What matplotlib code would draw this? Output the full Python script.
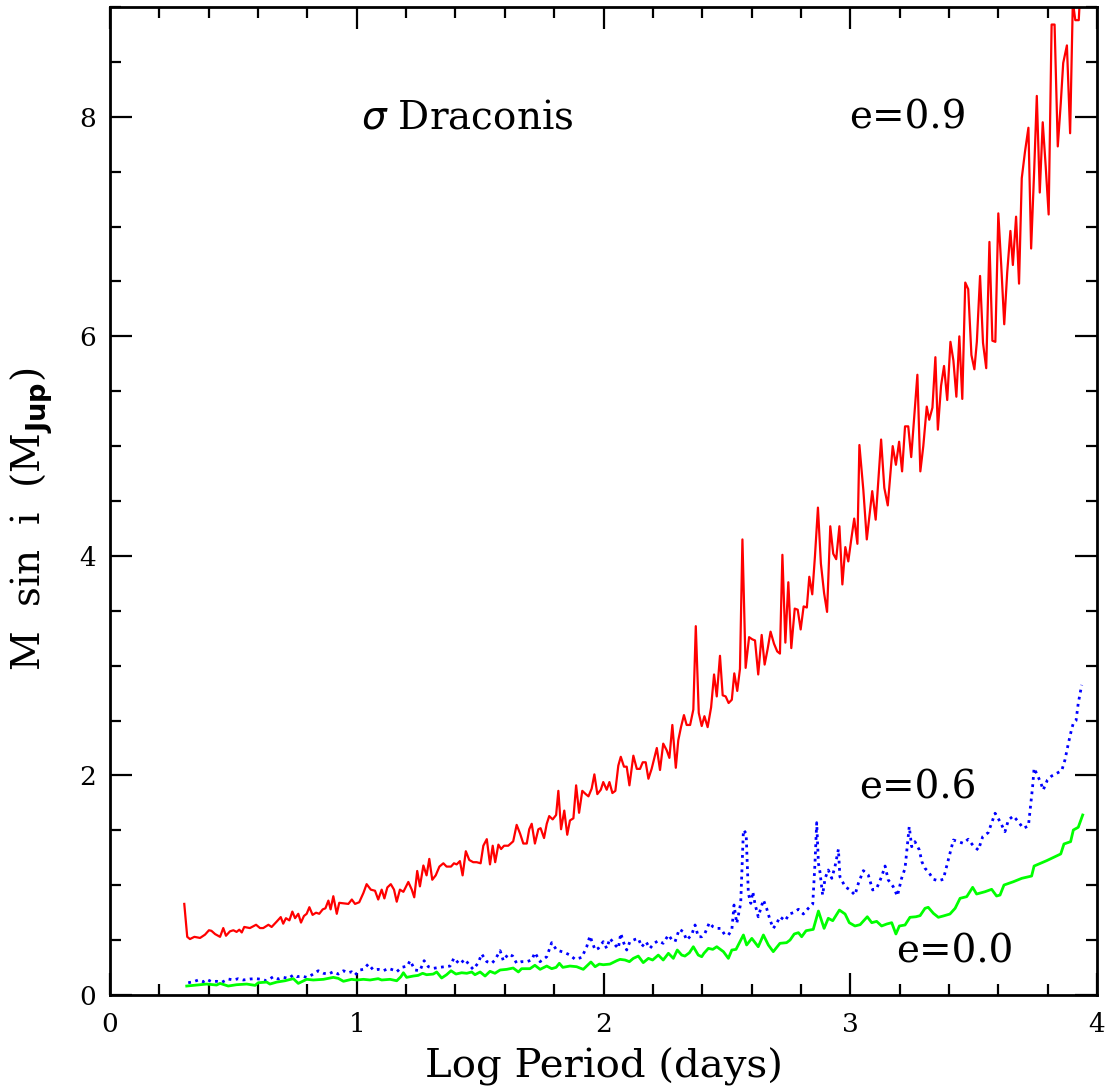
import numpy as np
import matplotlib
matplotlib.use("Agg")
import matplotlib.pyplot as plt
from matplotlib.ticker import MultipleLocator

# e=0.9 (red, solid)
x09 = [0.301, 0.313, 0.324, 0.342, 0.365, 0.385, 0.401, 0.411, 0.426, 0.446,
       0.459, 0.470, 0.486, 0.500, 0.513, 0.524, 0.534, 0.544, 0.567, 0.592,
       0.608, 0.621, 0.642, 0.655, 0.676, 0.692, 0.702, 0.713, 0.727, 0.739,
       0.750, 0.763, 0.774, 0.786, 0.797, 0.808, 0.821, 0.835, 0.848, 0.862,
       0.873, 0.885, 0.894, 0.905, 0.919, 0.929, 0.948, 0.966, 0.980, 0.993,
       1.010, 1.027, 1.040, 1.057, 1.074, 1.087, 1.101, 1.112, 1.124, 1.138,
       1.151, 1.162, 1.175, 1.189, 1.209, 1.223, 1.233, 1.245, 1.256, 1.270,
       1.283, 1.294, 1.306, 1.320, 1.335, 1.351, 1.364, 1.382, 1.394, 1.405,
       1.418, 1.429, 1.442, 1.456, 1.472, 1.486, 1.502, 1.513, 1.527, 1.540,
       1.551, 1.561, 1.574, 1.585, 1.597, 1.614, 1.634, 1.648, 1.662, 1.675,
       1.689, 1.699, 1.709, 1.722, 1.736, 1.745, 1.759, 1.770, 1.780, 1.794,
       1.808, 1.817, 1.828, 1.841, 1.853, 1.864, 1.878, 1.889, 1.901, 1.914,
       1.928, 1.939, 1.952, 1.963, 1.975, 1.989, 1.999, 2.013, 2.024, 2.036,
       2.048, 2.060, 2.070, 2.083, 2.094, 2.105, 2.121, 2.135, 2.148, 2.159,
       2.171, 2.182, 2.195, 2.216, 2.229, 2.242, 2.256, 2.267, 2.279, 2.293,
       2.303, 2.314, 2.326, 2.337, 2.351, 2.364, 2.374, 2.386, 2.398, 2.409,
       2.422, 2.436, 2.448, 2.459, 2.472, 2.483, 2.495, 2.507, 2.520, 2.530,
       2.542, 2.553, 2.563, 2.576, 2.590, 2.603, 2.614, 2.627, 2.641, 2.653,
       2.665, 2.677, 2.691, 2.704, 2.715, 2.725, 2.737, 2.749, 2.761, 2.775,
       2.787, 2.799, 2.811, 2.824, 2.834, 2.846, 2.857, 2.869, 2.881, 2.894,
       2.906, 2.919, 2.931, 2.943, 2.956, 2.968, 2.980, 2.992, 3.004, 3.016,
       3.029, 3.037, 3.053, 3.067, 3.089, 3.103, 3.125, 3.138, 3.152, 3.172,
       3.185, 3.198, 3.210, 3.222, 3.235, 3.247, 3.272, 3.284, 3.296, 3.310,
       3.320, 3.333, 3.345, 3.355, 3.368, 3.380, 3.393, 3.406, 3.418, 3.430,
       3.442, 3.454, 3.466, 3.478, 3.491, 3.503, 3.513, 3.526, 3.538, 3.551,
       3.564, 3.576, 3.588, 3.600, 3.612, 3.624, 3.636, 3.649, 3.659, 3.672,
       3.684, 3.695, 3.708, 3.722, 3.733, 3.745, 3.756, 3.768, 3.780, 3.792,
       3.804, 3.816, 3.828, 3.841, 3.853, 3.863, 3.878, 3.891, 3.902, 3.912,
       3.926, 3.931]
m09 = [0.83, 0.53, 0.51, 0.53, 0.52, 0.55, 0.59, 0.585, 0.555, 0.53,
       0.61, 0.54, 0.58, 0.59, 0.575, 0.595, 0.57, 0.62, 0.61, 0.64,
       0.61, 0.61, 0.64, 0.62, 0.67, 0.71, 0.65, 0.70, 0.68, 0.76,
       0.70, 0.74, 0.66, 0.72, 0.74, 0.80, 0.73, 0.75, 0.74, 0.78,
       0.79, 0.86, 0.78, 0.90, 0.74, 0.84, 0.835, 0.83, 0.87, 0.83,
       0.845, 0.93, 1.01, 0.96, 0.95, 0.87, 0.96, 0.88, 0.98, 1.01,
       0.96, 0.85, 0.96, 0.94, 1.03, 0.96, 0.89, 1.13, 0.99, 1.18,
       1.09, 1.24, 1.05, 1.09, 1.17, 1.20, 1.17, 1.17, 1.20, 1.19,
       1.22, 1.09, 1.31, 1.23, 1.21, 1.21, 1.20, 1.36, 1.42, 1.19,
       1.36, 1.21, 1.37, 1.33, 1.36, 1.36, 1.40, 1.55, 1.47, 1.38,
       1.38, 1.51, 1.56, 1.38, 1.51, 1.52, 1.43, 1.56, 1.63, 1.60,
       1.64, 1.86, 1.51, 1.68, 1.46, 1.59, 1.61, 1.91, 1.66, 1.86,
       1.83, 1.81, 1.88, 2.01, 1.83, 1.87, 1.94, 1.87, 1.94, 1.84,
       1.86, 2.09, 2.17, 2.08, 2.08, 1.91, 2.18, 2.06, 2.06, 2.12,
       2.12, 1.97, 2.06, 2.25, 2.05, 2.29, 2.23, 2.16, 2.46, 2.07,
       2.32, 2.44, 2.55, 2.46, 2.46, 2.60, 3.36, 2.57, 2.45, 2.54,
       2.44, 2.62, 2.92, 2.72, 3.09, 2.73, 2.72, 2.66, 2.69, 2.93,
       2.77, 2.97, 4.15, 2.98, 3.26, 3.24, 3.23, 2.92, 3.28, 3.01,
       3.15, 3.31, 3.20, 3.13, 3.11, 4.01, 3.21, 3.76, 3.16, 3.52,
       3.51, 3.33, 3.54, 3.53, 3.81, 3.65, 4.00, 4.44, 3.93, 3.66,
       3.49, 4.27, 4.02, 3.97, 4.27, 3.74, 4.08, 3.95, 4.15, 4.34,
       4.11, 5.01, 4.60, 4.15, 4.59, 4.33, 5.06, 4.62, 4.46, 5.00,
       4.83, 5.04, 4.77, 5.18, 5.18, 4.90, 5.65, 4.77, 5.00, 5.36,
       5.24, 5.35, 5.81, 5.15, 5.55, 5.73, 5.42, 5.95, 5.78, 5.45,
       6.00, 5.43, 6.49, 6.43, 5.83, 5.70, 5.95, 6.55, 5.94, 5.71,
       6.86, 5.96, 5.95, 7.12, 6.64, 6.11, 6.58, 6.96, 6.65, 7.09,
       6.48, 7.44, 7.68, 7.90, 6.80, 7.49, 8.19, 7.31, 7.95, 7.55,
       7.11, 8.84, 8.84, 7.73, 8.12, 8.49, 8.65, 7.85, 9.05, 8.88,
       8.88, 9.10]

# e=0.6 (blue, dotted)
x06 = [0.317, 0.338, 0.358, 0.378, 0.392, 0.412, 0.432, 0.453, 0.479, 0.500,
       0.520, 0.540, 0.567, 0.592, 0.615, 0.635, 0.662, 0.682, 0.702, 0.723,
       0.743, 0.757, 0.777, 0.797, 0.817, 0.844, 0.865, 0.885, 0.905, 0.925,
       0.946, 0.966, 0.979, 0.993, 1.013, 1.027, 1.047, 1.067, 1.087, 1.108,
       1.128, 1.148, 1.162, 1.182, 1.205, 1.216, 1.236, 1.256, 1.273, 1.290,
       1.310, 1.335, 1.358, 1.378, 1.394, 1.416, 1.439, 1.456, 1.472, 1.493,
       1.506, 1.527, 1.547, 1.560, 1.581, 1.594, 1.614, 1.632, 1.648, 1.668,
       1.689, 1.709, 1.722, 1.743, 1.770, 1.790, 1.810, 1.831, 1.844, 1.864,
       1.885, 1.912, 1.932, 1.945, 1.966, 1.979, 1.999, 2.013, 2.026, 2.047,
       2.060, 2.070, 2.080, 2.094, 2.107, 2.128, 2.141, 2.155, 2.172, 2.188,
       2.205, 2.222, 2.242, 2.263, 2.276, 2.290, 2.307, 2.323, 2.337, 2.357,
       2.371, 2.384, 2.398, 2.411, 2.429, 2.443, 2.459, 2.475, 2.492, 2.506,
       2.520, 2.529, 2.540, 2.556, 2.567, 2.578, 2.587, 2.597, 2.605, 2.614,
       2.627, 2.648, 2.661, 2.675, 2.688, 2.702, 2.715, 2.736, 2.753, 2.769,
       2.790, 2.810, 2.830, 2.848, 2.857, 2.864, 2.871, 2.877, 2.888, 2.898,
       2.911, 2.925, 2.938, 2.952, 2.958, 2.979, 2.999, 3.019, 3.033, 3.053,
       3.073, 3.091, 3.107, 3.127, 3.141, 3.154, 3.174, 3.191, 3.208, 3.222,
       3.239, 3.249, 3.262, 3.280, 3.290, 3.303, 3.316, 3.337, 3.357, 3.377,
       3.397, 3.418, 3.438, 3.458, 3.478, 3.499, 3.519, 3.537, 3.559, 3.587,
       3.607, 3.627, 3.641, 3.661, 3.681, 3.701, 3.722, 3.739, 3.745, 3.758,
       3.772, 3.782, 3.799, 3.816, 3.837, 3.857, 3.870, 3.884, 3.897, 3.904,
       3.915, 3.924, 3.938]
m06 = [0.112, 0.121, 0.137, 0.121, 0.143, 0.121, 0.125, 0.116, 0.146, 0.137,
       0.149, 0.137, 0.146, 0.149, 0.143, 0.130, 0.167, 0.146, 0.161, 0.152,
       0.182, 0.167, 0.173, 0.161, 0.182, 0.221, 0.198, 0.191, 0.212, 0.191,
       0.221, 0.203, 0.212, 0.182, 0.228, 0.234, 0.282, 0.228, 0.234, 0.221,
       0.243, 0.228, 0.212, 0.252, 0.264, 0.313, 0.228, 0.221, 0.313, 0.258,
       0.243, 0.252, 0.258, 0.264, 0.337, 0.282, 0.325, 0.273, 0.234, 0.295,
       0.374, 0.304, 0.289, 0.319, 0.404, 0.313, 0.374, 0.355, 0.289, 0.304,
       0.304, 0.319, 0.386, 0.304, 0.349, 0.477, 0.410, 0.395, 0.386, 0.364,
       0.325, 0.343, 0.440, 0.538, 0.410, 0.425, 0.486, 0.425, 0.516, 0.456,
       0.425, 0.562, 0.486, 0.410, 0.486, 0.507, 0.516, 0.440, 0.486, 0.425,
       0.471, 0.495, 0.471, 0.547, 0.507, 0.486, 0.599, 0.577, 0.501, 0.547,
       0.638, 0.531, 0.531, 0.562, 0.659, 0.623, 0.607, 0.607, 0.547, 0.547,
       0.592, 0.820, 0.653, 0.835, 1.503, 1.473, 0.926, 0.835, 0.941, 0.829,
       0.713, 0.866, 0.790, 0.683, 0.607, 0.653, 0.713, 0.677, 0.738, 0.750,
       0.781, 0.738, 0.790, 0.829, 1.200, 1.570, 1.200, 1.124, 0.911, 1.063,
       1.139, 1.063, 1.169, 1.328, 1.078, 0.987, 0.957, 0.911, 1.018, 1.133,
       1.093, 0.957, 0.972, 1.078, 1.175, 1.048, 0.987, 0.902, 1.063, 1.154,
       1.534, 1.351, 1.397, 1.321, 1.215, 1.154, 1.124, 1.054, 1.041, 1.054,
       1.230, 1.412, 1.397, 1.382, 1.419, 1.358, 1.321, 1.443, 1.479, 1.656,
       1.579, 1.488, 1.595, 1.631, 1.579, 1.519, 1.540, 1.898, 2.066, 2.005,
       1.934, 1.868, 1.959, 1.995, 2.020, 2.044, 2.141, 2.293, 2.421, 2.476,
       2.499, 2.658, 2.825]

# e=0.0 (green, solid)
x00 = [0.311, 0.351, 0.392, 0.432, 0.446, 0.479, 0.513, 0.554, 0.588, 0.601,
       0.635, 0.648, 0.676, 0.709, 0.743, 0.763, 0.797, 0.824, 0.865, 0.885,
       0.905, 0.925, 0.946, 0.979, 1.000, 1.027, 1.054, 1.087, 1.101, 1.135,
       1.162, 1.179, 1.189, 1.202, 1.229, 1.249, 1.267, 1.283, 1.310, 1.324,
       1.344, 1.364, 1.382, 1.402, 1.425, 1.446, 1.466, 1.479, 1.500, 1.520,
       1.540, 1.560, 1.581, 1.608, 1.634, 1.655, 1.668, 1.702, 1.722, 1.743,
       1.770, 1.790, 1.808, 1.821, 1.835, 1.864, 1.891, 1.918, 1.949, 1.966,
       1.983, 1.999, 2.026, 2.054, 2.067, 2.087, 2.105, 2.121, 2.141, 2.161,
       2.182, 2.199, 2.222, 2.242, 2.263, 2.283, 2.299, 2.317, 2.330, 2.348,
       2.364, 2.384, 2.398, 2.407, 2.425, 2.443, 2.459, 2.486, 2.506, 2.520,
       2.537, 2.567, 2.580, 2.601, 2.627, 2.648, 2.668, 2.688, 2.715, 2.742,
       2.756, 2.773, 2.790, 2.803, 2.821, 2.850, 2.871, 2.894, 2.911, 2.929,
       2.956, 2.979, 2.996, 3.019, 3.040, 3.069, 3.087, 3.107, 3.127, 3.148,
       3.168, 3.185, 3.199, 3.222, 3.242, 3.266, 3.283, 3.303, 3.316, 3.337,
       3.357, 3.377, 3.404, 3.425, 3.445, 3.472, 3.496, 3.512, 3.546, 3.573,
       3.593, 3.607, 3.623, 3.661, 3.695, 3.735, 3.745, 3.796, 3.853, 3.866,
       3.893, 3.904, 3.924, 3.942]
m00 = [0.082, 0.091, 0.100, 0.091, 0.106, 0.082, 0.094, 0.100, 0.088, 0.112,
       0.118, 0.100, 0.118, 0.130, 0.149, 0.106, 0.143, 0.137, 0.143, 0.152,
       0.161, 0.152, 0.125, 0.143, 0.137, 0.143, 0.137, 0.149, 0.137, 0.143,
       0.130, 0.167, 0.203, 0.161, 0.173, 0.179, 0.198, 0.185, 0.191, 0.210,
       0.155, 0.185, 0.221, 0.191, 0.203, 0.198, 0.210, 0.185, 0.210, 0.173,
       0.216, 0.198, 0.228, 0.234, 0.246, 0.210, 0.240, 0.240, 0.271, 0.234,
       0.264, 0.240, 0.252, 0.289, 0.252, 0.264, 0.258, 0.234, 0.301, 0.258,
       0.282, 0.276, 0.282, 0.313, 0.325, 0.319, 0.304, 0.334, 0.355, 0.295,
       0.334, 0.319, 0.364, 0.319, 0.380, 0.334, 0.410, 0.364, 0.355, 0.385,
       0.440, 0.364, 0.349, 0.380, 0.425, 0.416, 0.440, 0.395, 0.334, 0.410,
       0.416, 0.547, 0.456, 0.516, 0.440, 0.547, 0.456, 0.395, 0.471, 0.477,
       0.501, 0.556, 0.568, 0.531, 0.586, 0.598, 0.765, 0.607, 0.699, 0.677,
       0.774, 0.738, 0.659, 0.629, 0.641, 0.713, 0.659, 0.671, 0.629, 0.647,
       0.659, 0.556, 0.629, 0.638, 0.708, 0.713, 0.723, 0.790, 0.799, 0.744,
       0.708, 0.720, 0.738, 0.790, 0.881, 0.896, 0.981, 0.920, 0.941, 0.963,
       0.902, 0.911, 1.002, 1.032, 1.063, 1.084, 1.175, 1.224, 1.285, 1.376,
       1.397, 1.503, 1.528, 1.640]

labels = ["e=0.9", "e=0.6", "e=0.0"]

plt.rcParams['font.family'] = ['DejaVu Serif']
fig = plt.figure(figsize=(11.1, 10.92), dpi=100)
ax = fig.add_axes([0.0991, 0.0888, 0.8892, 0.9048])

ax.plot(x09, m09, color='#ff0000', lw=1.6)
ax.plot(x06, m06, color='#0000ff', lw=2.0, linestyle=(0, (1.0, 1.6)))
ax.plot(x00, m00, color='#00ff00', lw=2.0)

ax.set_xlim(0, 4)
ax.set_ylim(0, 9)

ax.xaxis.set_major_locator(MultipleLocator(1))
ax.xaxis.set_minor_locator(MultipleLocator(0.2))
ax.yaxis.set_major_locator(MultipleLocator(2))
ax.yaxis.set_minor_locator(MultipleLocator(0.5))
ax.tick_params(which='both', direction='in', top=True, right=True, width=1.6,
               labelsize=19)
ax.tick_params(which='major', length=16)
ax.tick_params(which='minor', length=8)
ax.tick_params(axis='x', which='major', pad=12)
ax.tick_params(axis='y', which='major', pad=10)
for s in ax.spines.values():
    s.set_linewidth(2.0)

ax.set_xlabel('Log Period (days)', fontsize=29, labelpad=8)
ax.set_ylabel('M  sin  i  (M$_{\\mathbf{Jup}}$)', fontsize=28)
ax.yaxis.set_label_coords(-0.056, 0.481)

ax.text(1.447, 7.99, '$\\sigma$ Draconis', fontsize=28, ha='center', va='center')
ax.text(3.234, 7.99, labels[0], fontsize=28, ha='center', va='center')
ax.text(3.275, 1.886, labels[1], fontsize=28, ha='center', va='center')
ax.text(3.424, 0.39, labels[2], fontsize=28, ha='center', va='center')

fig.savefig('out.png', dpi=100)
